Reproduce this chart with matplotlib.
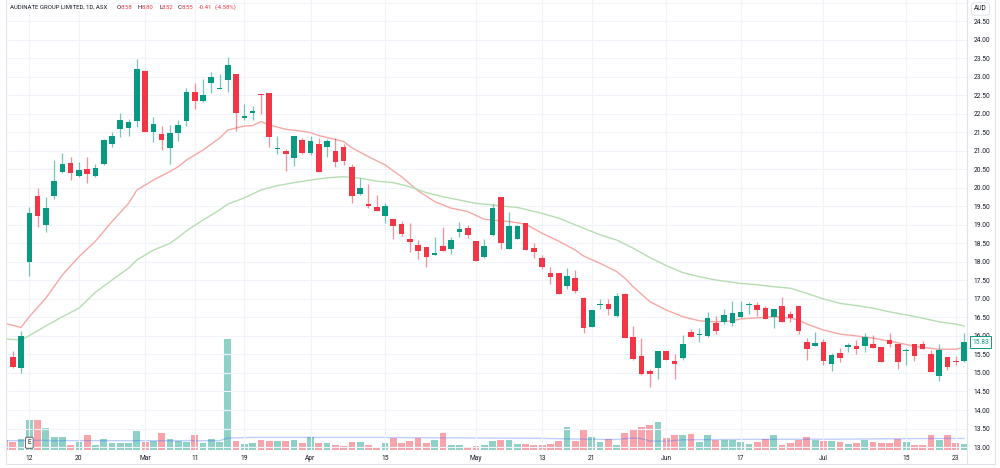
import numpy as np
import matplotlib
matplotlib.use("Agg")
import matplotlib.pyplot as plt
from matplotlib.transforms import blended_transform_factory
from matplotlib.lines import Line2D

plt.rcParams['font.family'] = ['Roboto', 'DejaVu Sans']

# daily bars, ASX, 2024 (index 0 = 7 Feb)
opens = [15.30, 15.44, 15.14, 18.00, 19.79, 18.99, 19.79, 20.42, 20.68, 20.32,
         20.51, 20.32, 20.64, 21.18, 21.58, 21.61, 21.80, 23.16, 21.51, 21.45,
         21.07, 21.47, 21.80, 22.58, 22.34, 22.84, 22.66, 22.91, 23.07, 21.89,
         22.01, 22.53, 22.57, 21.04, 21.00, 20.80, 21.29, 20.95, 21.18, 21.11,
         20.99, 21.09, 20.55, 19.83, 19.55, 19.49, 19.24, 19.15, 19.02, 18.62,
         18.46, 18.39, 18.19, 18.44, 18.35, 18.82, 18.92, 18.56, 18.12, 18.73,
         19.74, 18.35, 18.62, 19.04, 18.37, 18.11, 17.69, 17.69, 17.35, 17.56,
         17.02, 16.23, 16.83, 16.86, 16.54, 17.13, 15.98, 15.46, 15.05, 15.13,
         15.59, 15.32, 15.40, 16.10, 16.02, 16.00, 16.36, 16.38, 16.36, 16.50,
         16.83, 16.84, 16.76, 16.52, 16.81, 16.59, 16.81, 15.83, 15.74, 15.83,
         15.23, 15.53, 15.71, 15.74, 15.72, 15.78, 15.71, 15.89, 15.77, 15.58,
         15.78, 15.77, 15.50, 14.91, 15.44, 15.32, 15.32]
highs = [15.35, 15.59, 16.14, 19.49, 20.00, 19.76, 20.75, 20.93, 20.84, 20.69,
         20.82, 20.64, 21.32, 21.52, 22.01, 21.85, 23.48, 23.18, 21.92, 21.67,
         21.70, 21.83, 22.69, 22.84, 22.93, 23.14, 23.07, 23.52, 23.07, 22.26,
         22.21, 22.53, 22.57, 21.40, 21.04, 21.40, 21.34, 21.41, 21.34, 21.31,
         21.35, 21.18, 20.64, 20.27, 20.10, 19.81, 19.58, 19.15, 19.11, 19.04,
         18.59, 18.39, 18.66, 18.95, 18.68, 19.08, 19.00, 18.56, 18.62, 19.56,
         19.74, 19.36, 19.00, 19.04, 18.50, 18.19, 17.87, 17.69, 17.84, 17.78,
         17.04, 16.70, 16.99, 16.99, 17.17, 17.17, 16.27, 15.94, 15.11, 15.60,
         15.59, 15.51, 16.03, 16.19, 16.21, 16.65, 16.55, 16.72, 16.95, 16.95,
         16.92, 16.92, 16.80, 16.72, 17.06, 16.68, 16.81, 15.94, 16.11, 15.91,
         15.53, 15.68, 15.82, 15.89, 16.09, 16.03, 15.71, 16.07, 15.77, 15.67,
         15.78, 15.87, 15.62, 15.77, 15.44, 15.46, 16.07]
lows = [15.10, 15.13, 14.99, 17.63, 18.95, 18.81, 19.70, 20.39, 20.21, 20.30,
        20.14, 20.28, 20.62, 21.09, 21.36, 21.40, 21.65, 21.50, 21.25, 21.02,
        20.64, 21.26, 21.67, 22.13, 22.33, 22.55, 22.66, 22.58, 21.54, 21.83,
        21.83, 21.99, 21.11, 20.91, 20.46, 20.60, 20.91, 20.88, 20.44, 20.82,
        20.57, 20.62, 19.60, 19.81, 19.45, 19.38, 19.04, 18.62, 18.70, 18.27,
        18.09, 17.87, 18.19, 18.30, 18.20, 18.68, 18.65, 18.03, 18.10, 18.71,
        18.35, 18.35, 18.62, 18.32, 18.11, 17.80, 17.40, 17.13, 17.26, 17.15,
        16.07, 16.23, 16.72, 16.56, 16.52, 15.94, 15.35, 14.95, 14.63, 14.83,
        15.35, 14.84, 15.35, 15.98, 15.83, 15.98, 16.04, 16.32, 16.27, 16.48,
        16.60, 16.54, 16.46, 16.22, 16.37, 16.38, 16.04, 15.35, 15.74, 15.21,
        15.06, 15.30, 15.57, 15.51, 15.57, 15.68, 15.30, 15.69, 15.10, 15.21,
        15.32, 15.65, 15.03, 14.78, 15.08, 15.21, 15.29]
closes = [15.13, 15.17, 16.01, 19.33, 19.25, 19.45, 20.18, 20.64, 20.39, 20.48,
          20.37, 20.54, 21.29, 21.41, 21.83, 21.79, 23.20, 21.52, 21.72, 21.29,
          21.47, 21.70, 22.60, 22.34, 22.51, 23.00, 22.69, 23.32, 22.03, 21.94,
          22.08, 22.50, 21.36, 21.07, 20.91, 21.40, 20.95, 21.26, 20.44, 21.27,
          20.71, 20.72, 19.79, 19.99, 19.51, 19.38, 19.51, 18.98, 18.76, 18.53,
          18.29, 18.12, 18.25, 18.30, 18.59, 18.89, 18.73, 18.03, 18.44, 19.45,
          18.50, 18.98, 18.98, 18.32, 18.28, 17.87, 17.60, 17.13, 17.63, 17.22,
          16.21, 16.70, 16.86, 16.73, 17.08, 15.95, 15.38, 14.97, 14.96, 15.60,
          15.35, 15.23, 15.77, 15.98, 16.05, 16.48, 16.14, 16.57, 16.61, 16.64,
          16.86, 16.70, 16.46, 16.72, 16.37, 16.48, 16.13, 15.65, 15.80, 15.32,
          15.49, 15.40, 15.76, 15.65, 15.96, 15.68, 15.30, 15.77, 15.30, 15.62,
          15.46, 15.65, 15.03, 15.62, 15.17, 15.29, 15.83]
volumes = [250, 190, 275, 760, 760, 540, 330, 330, 130, 190,
           380, 130, 275, 170, 180, 180, 470, 190, 230, 420,
           275, 220, 210, 375, 175, 275, 190, 2775, 230, 140,
           170, 260, 230, 220, 230, 250, 170, 330, 170, 170,
           130, 110, 210, 190, 130, 85, 175, 290, 175, 220,
           300, 175, 260, 430, 130, 130, 85, 110, 125, 230,
           260, 250, 140, 140, 120, 120, 160, 225, 575, 225,
           490, 320, 210, 280, 130, 430, 520, 575, 620, 710,
           310, 375, 375, 410, 200, 375, 250, 260, 260, 200,
           160, 200, 270, 375, 130, 175, 240, 320, 250, 225,
           225, 200, 150, 180, 250, 200, 180, 180, 270, 200,
           130, 130, 375, 250, 370, 170, 140]

# moving averages (bar index, value)
ma_fast_idx = [0, 2, 3, 5, 7, 9, 11, 13, 15, 16, 18, 20, 21, 22, 24, 26, 27, 29,
               30, 31, 32, 34, 36, 37, 38, 39, 41, 42, 44, 46, 48, 50, 52, 54,
               56, 58, 59, 61, 63, 65, 67, 69, 70, 72, 74, 75, 76, 78, 80, 82,
               84, 86, 88, 89, 91, 93, 95, 96, 97, 99, 101, 103, 105, 107, 109,
               111, 113, 115, 116]
ma_fast = [16.34, 16.23, 16.52, 17.02, 17.65, 18.14, 18.56, 19.09, 19.58, 19.94,
           20.21, 20.44, 20.57, 20.75, 21.02, 21.34, 21.56, 21.67, 21.68, 21.79,
           21.70, 21.58, 21.53, 21.49, 21.41, 21.36, 21.25, 21.08, 20.84, 20.62,
           20.30, 19.92, 19.63, 19.45, 19.36, 19.15, 19.13, 19.09, 19.02, 18.77,
           18.56, 18.32, 18.16, 17.96, 17.74, 17.56, 17.33, 16.93, 16.70, 16.52,
           16.41, 16.38, 16.41, 16.46, 16.49, 16.52, 16.48, 16.43, 16.32, 16.16,
           16.05, 16.00, 15.94, 15.86, 15.77, 15.69, 15.64, 15.64, 15.69]
ma_slow_idx = [0, 2, 3, 5, 7, 9, 11, 13, 15, 16, 18, 20, 21, 22, 24, 26, 27, 29,
               31, 33, 35, 37, 39, 41, 43, 45, 47, 49, 51, 53, 55, 57, 59, 60,
               62, 65, 67, 70, 72, 74, 76, 78, 80, 82, 84, 86, 88, 89, 91, 93,
               95, 97, 99, 101, 103, 105, 107, 109, 111, 113, 115, 116]
ma_slow = [15.92, 15.89, 16.01, 16.27, 16.52, 16.75, 17.18, 17.51, 17.83, 18.05,
           18.32, 18.50, 18.66, 18.84, 19.13, 19.40, 19.56, 19.73, 19.94, 20.06,
           20.14, 20.21, 20.27, 20.30, 20.26, 20.18, 20.14, 20.03, 19.87, 19.76,
           19.67, 19.58, 19.54, 19.51, 19.47, 19.31, 19.18, 18.91, 18.73, 18.59,
           18.37, 18.12, 17.90, 17.71, 17.60, 17.51, 17.45, 17.42, 17.38, 17.33,
           17.29, 17.15, 17.00, 16.88, 16.82, 16.75, 16.65, 16.57, 16.48, 16.38,
           16.32, 16.27]
vol_ma_idx = [0, 3, 4, 6, 26, 27, 30, 45, 57, 65, 72, 74, 76, 77, 78, 80, 82,
              90, 100, 110, 116]
vol_ma = [233, 233, 245, 233, 233, 300, 315, 315, 300, 290, 265, 265, 300,
          285, 225, 220, 255, 265, 270, 285, 290]

tick_idx = [3, 9, 17, 23, 29, 37, 46, 57, 65, 71, 80, 89, 99, 109, 115]
tick_labels = ['12', '20', 'Mar', '11', '19', 'Apr', '15', 'May', '13', '21',
               'Jun', '17', 'Jul', '15', '23']

UP = '#089981'
DOWN = '#f23645'
GRID = '#f0f3fa'
TEXT = '#131722'
FS = 4.8

W, H = 1000, 468
fig = plt.figure(figsize=(W / 100, H / 100), dpi=100)
fig.patch.set_facecolor('white')

left, right, top, bottom = 5.7, 966.5, 0, 450
rect = [left / W, (H - bottom) / H, (right - left) / W, (bottom - top) / H]
axv = fig.add_axes(rect)
ax = fig.add_axes(rect, sharex=axv)
ax.patch.set_visible(False)

o = np.array(opens)
h = np.array(highs)
l = np.array(lows)
c = np.array(closes)
x = np.arange(len(o))
up = c >= o
colors = np.where(up, UP, DOWN)

# volume pane
axv.bar(x, volumes, width=0.82, color=colors, alpha=0.45, linewidth=0)
axv.plot(vol_ma_idx, vol_ma, color='#2962ff', alpha=0.3, lw=1)
axv.set_ylim(0, max(volumes) / (111 / 450))
axv.axis('off')

# candles
ax.vlines(x, l, h, colors=colors, lw=0.9, alpha=0.55, zorder=3)
body = np.maximum(np.abs(c - o), 0.025)
ax.bar(x, body, bottom=np.minimum(o, c), width=0.68, color=colors,
       linewidth=0, zorder=4)
ax.plot(ma_fast_idx, ma_fast, color='#f7a8a4', lw=1, zorder=2)
ax.plot(ma_slow_idx, ma_slow, color='#b5deb1', lw=1, zorder=2)

ax.set_xlim(0.145, 116.3)
ax.set_ylim(12.92, 25.072)
ax.set_yticks(np.arange(13, 24.51, 0.5))
ax.yaxis.set_major_formatter(plt.FormatStrFormatter('%.2f'))
ax.yaxis.tick_right()
ax.tick_params(axis='y', length=0, pad=5, labelsize=FS, labelcolor=TEXT)
ax.set_xticks(tick_idx)
ax.set_xticklabels(tick_labels)
ax.tick_params(axis='x', length=0, pad=3.5, labelsize=FS, labelcolor=TEXT)
for s in ax.spines.values():
    s.set_visible(False)
for t in tick_idx:
    ax.axvline(t, color=GRID, lw=0.8, zorder=0)
for v in np.arange(13, 25.01, 0.5):
    ax.axhline(v, color=GRID, lw=0.8, zorder=0)

# frame
fr = dict(color='#e0e3eb', lw=0.8, transform=None)
def px_line(xs, ys):
    fig.add_artist(Line2D(xs, [H - y for y in ys], **fr))
px_line([left, left], [0, 464])
px_line([left, 995], [464, 464])
px_line([995, 995], [0, 464])
px_line([right, right], [0, 464])

# earnings marker
btr = blended_transform_factory(ax.transData, ax.transAxes)
ax.text(3, 0.016, 'E', transform=btr, ha='center', va='center', fontsize=FS,
        color=TEXT, zorder=6,
        bbox=dict(boxstyle='round,pad=0.3,rounding_size=0.2', fc='white',
                  ec='#5d606b', lw=0.7))

# last price tag
ax.annotate(f'{closes[-1]:.2f}', xy=(1, closes[-1]),
            xycoords=('axes fraction', 'data'), xytext=(4, 0),
            textcoords='offset points', ha='left', va='center', fontsize=FS,
            color=UP, annotation_clip=False, zorder=7,
            bbox=dict(boxstyle='square,pad=0.35', fc='white', ec=UP, lw=0.7))

fig.text(980.5 / W, 1 - 9 / H, 'AUD', ha='center', va='center', fontsize=FS,
         color=TEXT, bbox=dict(boxstyle='round,pad=0.4', fc='white',
                               ec='#e0e3eb', lw=0.7))

# header line (pixel x of each piece)
header = [(10, 'AUDINATE GROUP LIMITED, 1D, ASX', TEXT),
          (116.5, 'O', TEXT), (120.5, '8.58', DOWN),
          (137.5, 'H', TEXT), (141.5, '8.80', DOWN),
          (159, 'L', TEXT), (162, '8.52', DOWN),
          (178, 'C', TEXT), (181.5, '8.55', DOWN),
          (199, '-0.41', DOWN), (215, '(-4.58%)', DOWN)]
for px, s, col in header:
    fig.text(px / W, 1 - 7.5 / H, s, color=col, fontsize=4.3, ha='left',
             va='center')

fig.savefig('out.png', dpi=100, facecolor='white')
